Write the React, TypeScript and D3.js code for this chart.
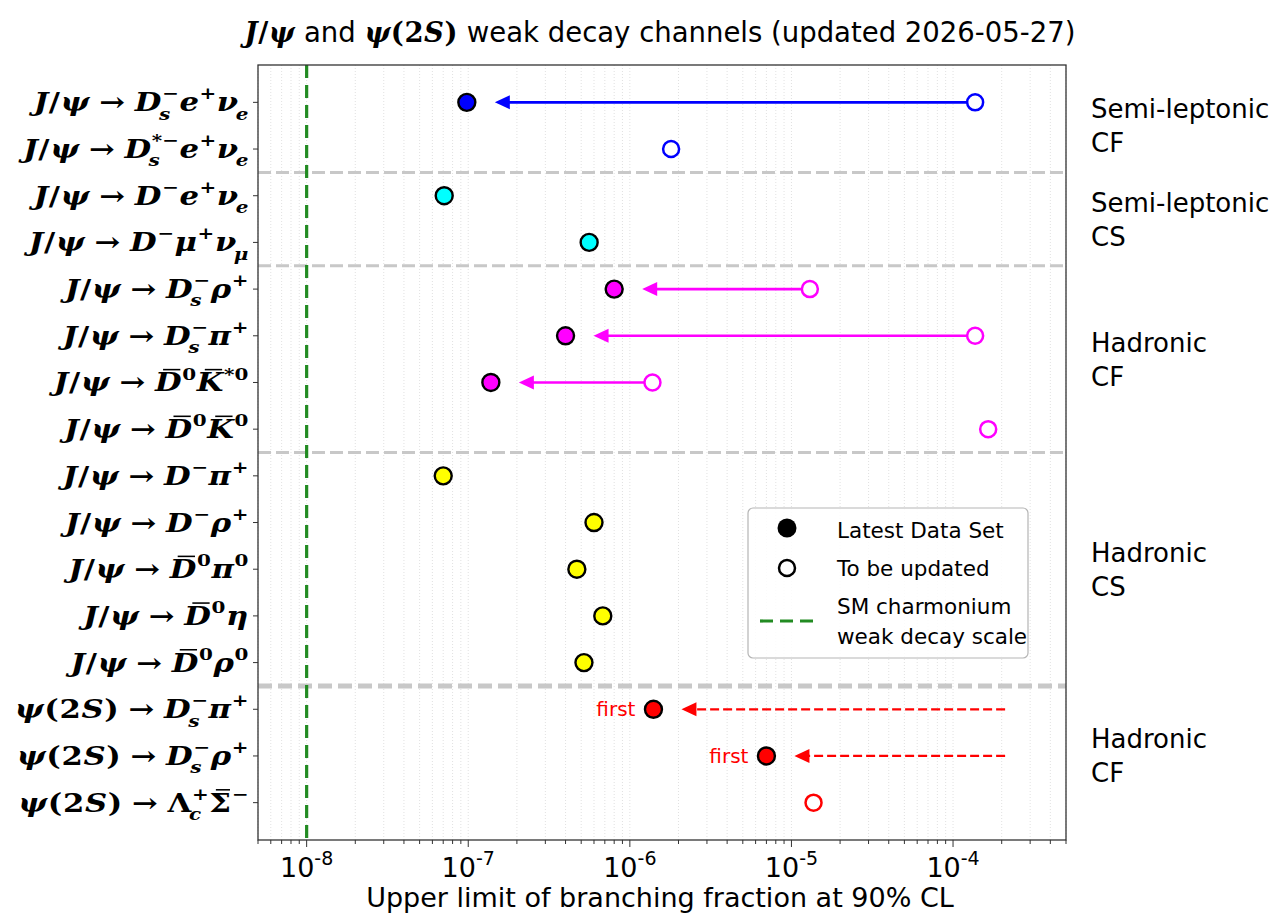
import { useEffect, useRef } from 'react';
import * as d3 from 'd3';

const width = 1274;
const height = 916;

const SANS = 'DejaVu Sans, Liberation Sans, sans-serif';
const SERIF = 'DejaVu Serif, Liberation Serif, serif';

// channel labels, mini markup: _{..} subscript, ^{..} superscript, ~X bar over X
const channels = [
  'J/ψ → D_{s}^{−}e^{+}ν_{e}',
  'J/ψ → D_{s}^{*−}e^{+}ν_{e}',
  'J/ψ → D^{−}e^{+}ν_{e}',
  'J/ψ → D^{−}μ^{+}ν_{μ}',
  'J/ψ → D_{s}^{−}ρ^{+}',
  'J/ψ → D_{s}^{−}π^{+}',
  'J/ψ → ~D^{0}~K^{*0}',
  'J/ψ → ~D^{0}~K^{0}',
  'J/ψ → D^{−}π^{+}',
  'J/ψ → D^{−}ρ^{+}',
  'J/ψ → ~D^{0}π^{0}',
  'J/ψ → ~D^{0}η',
  'J/ψ → ~D^{0}ρ^{0}',
  'ψ(2S) → D_{s}^{−}π^{+}',
  'ψ(2S) → D_{s}^{−}ρ^{+}',
  'ψ(2S) → Λ_{c}^{+}~Σ^{−}',
];

// latest data set upper limits (filled)
const latest: (number | null)[] = [
  9.8e-8, null, 7.1e-8, 5.6e-7, 8.0e-7, 4.0e-7, 1.38e-7, null,
  7.0e-8, 6.0e-7, 4.7e-7, 6.8e-7, 5.2e-7, 1.4e-6, 7.0e-6, null,
];

// older limits, to be updated (open)
const previous: (number | null)[] = [
  1.37e-4, 1.8e-6, null, null, 1.3e-5, 1.37e-4, 1.38e-6, 1.65e-4,
  null, null, null, null, null, null, null, 1.37e-5,
];

// first measurements: dashed arrow starts here
const firstFrom: (number | null)[] = [
  null, null, null, null, null, null, null, null,
  null, null, null, null, null, 2.1e-4, 2.1e-4, null,
];

const groupNames = ['Semi-leptonic\nCF', 'Semi-leptonic\nCS', 'Hadronic\nCF', 'Hadronic\nCS', 'Hadronic\nCF'];
const groupStart = [0, 2, 4, 8, 13];
const groupEnd = [1, 3, 7, 12, 15];
const groupColors = ['#0000ff', '#00ffff', '#ff00ff', '#ffff00', '#ff0000'];

const smScale = 1e-8;
const xTicks = [1e-8, 1e-7, 1e-6, 1e-5, 1e-4];

type Piece = { base: string; sub?: string; sup?: string; bar?: boolean };

function parseMath(s: string): Piece[] {
  const out: Piece[] = [];
  let i = 0;
  while (i < s.length) {
    const c = s[i];
    if (c === '_' || c === '^') {
      const end = s.indexOf('}', i);
      const txt = s.slice(i + 2, end);
      const last = out[out.length - 1];
      if (c === '_') last.sub = txt;
      else last.sup = txt;
      i = end + 1;
    } else if (c === '~') {
      out.push({ base: s[i + 1], bar: true });
      i += 2;
    } else {
      out.push({ base: c });
      i++;
    }
  }
  return out;
}

function drawMathAt(g: any, str: string, fs: number, x0: number) {
  let x = x0;
  const upright = (t: string) => /^[0-9()→ΛΣ/+−*]+$/.test(t);
  for (const p of parseMath(str)) {
    if (p.base === ' ') { x += fs * 0.3; continue; }
    const t = g.append('text')
      .attr('x', x).attr('y', 0)
      .attr('font-family', SERIF).attr('font-weight', 'bold')
      .attr('font-style', upright(p.base) ? 'normal' : 'italic')
      .attr('font-size', fs)
      .text(p.base);
    const w = (t.node() as SVGTextElement).getComputedTextLength();
    if (p.bar) {
      g.append('line')
        .attr('x1', x + w * 0.3).attr('x2', x + w * 0.95)
        .attr('y1', -fs * 0.84).attr('y2', -fs * 0.84)
        .attr('stroke', '#000').attr('stroke-width', fs * 0.06);
    }
    const ss = fs * 0.65;
    let sw = 0;
    if (p.sup) {
      const s = g.append('text')
        .attr('x', x + w + fs * 0.02).attr('y', -fs * 0.46)
        .attr('font-family', SERIF).attr('font-weight', 'bold')
        .attr('font-style', upright(p.sup) ? 'normal' : 'italic')
        .attr('font-size', ss).text(p.sup);
      sw = Math.max(sw, (s.node() as SVGTextElement).getComputedTextLength() + fs * 0.02);
    }
    if (p.sub) {
      const s = g.append('text')
        .attr('x', x + w - fs * 0.08).attr('y', fs * 0.32)
        .attr('font-family', SERIF).attr('font-weight', 'bold')
        .attr('font-style', upright(p.sub) ? 'normal' : 'italic')
        .attr('font-size', ss).text(p.sub);
      sw = Math.max(sw, (s.node() as SVGTextElement).getComputedTextLength() - fs * 0.08);
    }
    x += w + sw + fs * 0.02;
  }
  return x;
}

// mixed math ('m') and sans ('s') text, anchored at (x0, y0); sx stretches horizontally
function drawRich(parent: any, segs: [string, string][], fs: number, x0: number, y0: number, anchor: string, sx = 1) {
  const g = parent.append('g');
  let x = 0;
  for (const [kind, str] of segs) {
    if (kind === 's') {
      const t = g.append('text')
        .attr('x', x).attr('y', 0)
        .attr('font-family', SANS).attr('font-size', fs)
        .style('white-space', 'pre')
        .text(str);
      x += (t.node() as SVGTextElement).getComputedTextLength();
    } else {
      x = drawMathAt(g, str, fs, x);
    }
  }
  const shift = anchor === 'end' ? -x : anchor === 'middle' ? -x / 2 : 0;
  g.attr('transform', `translate(${x0 + shift * sx},${y0}) scale(${sx},1)`);
  return g;
}

const App = () => {
  const svgRef = useRef<SVGSVGElement>(null);

  useEffect(() => {
    const svg = d3.select(svgRef.current);
    svg.selectAll('*').remove();

    const left = 258, right = 1066, top = 65, bottom = 840;

    const x = d3.scaleLog().domain([5e-9, 5e-4]).range([left, right]);
    const y = d3.scaleLinear().domain([-0.8, 15.8]).range([top, bottom]);

    const rowColor = (i: number) => {
      const gi = groupStart.findIndex((s, k) => i >= s && i <= groupEnd[k]);
      return groupColors[gi];
    };

    // minor + major grid (vertical, dotted)
    const allTicks: number[] = [];
    for (let k = -9; k <= -4; k++) {
      for (let m = 1; m <= 9; m++) {
        const v = m * Math.pow(10, k);
        if (v >= 5e-9 && v <= 5e-4) allTicks.push(v);
      }
    }
    svg.append('g').selectAll('line')
      .data(allTicks)
      .enter().append('line')
      .attr('x1', d => x(d)).attr('x2', d => x(d))
      .attr('y1', top).attr('y2', bottom)
      .attr('stroke', '#d9d9d9').attr('stroke-width', 0.8)
      .attr('stroke-dasharray', '1,2');

    // group separators
    groupEnd.slice(0, -1).forEach((e, k) => {
      const thick = k === groupEnd.length - 2;
      svg.append('line')
        .attr('x1', left).attr('x2', right)
        .attr('y1', y(e + 0.5)).attr('y2', y(e + 0.5))
        .attr('stroke', '#c8c8c8')
        .attr('stroke-width', thick ? 5 : 3)
        .attr('stroke-dasharray', thick ? '14,6' : '13,5');
    });

    // SM scale
    svg.append('line')
      .attr('x1', x(smScale)).attr('x2', x(smScale))
      .attr('y1', top).attr('y2', bottom)
      .attr('stroke', '#228b22').attr('stroke-width', 3.2)
      .attr('stroke-dasharray', '13,7');

    const drawArrow = (x1: number, x2: number, yy: number, color: string, dashed: boolean) => {
      const headLen = 15, headW = 7;
      svg.append('line')
        .attr('x1', x1).attr('x2', x2 + headLen - 2)
        .attr('y1', yy).attr('y2', yy)
        .attr('stroke', color).attr('stroke-width', dashed ? 2.2 : 2.6)
        .attr('stroke-dasharray', dashed ? '9,4' : null);
      svg.append('path')
        .attr('d', `M${x2},${yy}L${x2 + headLen},${yy - headW}L${x2 + headLen},${yy + headW}Z`)
        .attr('fill', color);
    };

    // arrows
    channels.forEach((_, i) => {
      const c = rowColor(i);
      const l = latest[i];
      if (l == null) return;
      const tip = x(l) + 28;
      if (previous[i] != null) drawArrow(x(previous[i] as number) - 8, tip, y(i), c, false);
      if (firstFrom[i] != null) {
        drawArrow(x(firstFrom[i] as number), tip, y(i), c, true);
        svg.append('text')
          .attr('x', x(l) - 18).attr('y', y(i) + 7)
          .attr('text-anchor', 'end')
          .attr('font-family', SANS).attr('font-size', 20)
          .attr('fill', c)
          .text('first');
      }
    });

    // open markers
    svg.append('g').selectAll('circle')
      .data(channels.map((_, i) => i).filter(i => previous[i] != null))
      .enter().append('circle')
      .attr('cx', i => x(previous[i] as number)).attr('cy', i => y(i))
      .attr('r', 8)
      .attr('fill', '#fff')
      .attr('stroke', i => rowColor(i))
      .attr('stroke-width', 2.5);

    // filled markers
    svg.append('g').selectAll('circle')
      .data(channels.map((_, i) => i).filter(i => latest[i] != null))
      .enter().append('circle')
      .attr('cx', i => x(latest[i] as number)).attr('cy', i => y(i))
      .attr('r', 8.5)
      .attr('fill', i => rowColor(i))
      .attr('stroke', '#000')
      .attr('stroke-width', 2.4);

    // frame
    svg.append('rect')
      .attr('x', left).attr('y', top)
      .attr('width', right - left).attr('height', bottom - top)
      .attr('fill', 'none').attr('stroke', '#333').attr('stroke-width', 1.3);

    // x ticks
    svg.append('g').selectAll('line')
      .data(allTicks)
      .enter().append('line')
      .attr('x1', d => x(d)).attr('x2', d => x(d))
      .attr('y1', bottom)
      .attr('y2', d => bottom + (xTicks.some(t => Math.abs(t - d) / d < 1e-6) ? 7 : 4))
      .attr('stroke', '#333').attr('stroke-width', 1);

    xTicks.forEach(t => {
      const txt = svg.append('text')
        .attr('x', x(t)).attr('y', 877)
        .attr('text-anchor', 'middle')
        .attr('font-family', SANS).attr('font-size', 27);
      txt.append('tspan').text('10');
      txt.append('tspan').attr('dy', -12).attr('font-size', 19).text(String(Math.round(Math.log10(t))));
    });

    svg.append('text')
      .attr('x', (left + right) / 2 - 2).attr('y', 907)
      .attr('text-anchor', 'middle')
      .attr('font-family', SANS).attr('font-size', 27)
      .text('Upper limit of branching fraction at 90% CL');

    // y ticks and channel labels
    channels.forEach((lab, i) => {
      svg.append('line')
        .attr('x1', left - 5).attr('x2', left)
        .attr('y1', y(i)).attr('y2', y(i))
        .attr('stroke', '#333').attr('stroke-width', 1);
      drawRich(svg, [['m', lab]], 26, left - 9, y(i) + 9, 'end', 1.18);
    });

    // group labels
    groupNames.forEach((name, k) => {
      const cy = y((groupStart[k] + groupEnd[k]) / 2);
      const lines = name.split('\n');
      lines.forEach((ln, j) => {
        svg.append('text')
          .attr('x', 1091).attr('y', cy + (j - (lines.length - 1) / 2) * 34 + 9.5)
          .attr('font-family', SANS).attr('font-size', 26)
          .text(ln);
      });
    });

    // title
    drawRich(svg, [
      ['m', 'J/ψ'],
      ['s', ' and '],
      ['m', 'ψ(2S)'],
      ['s', ' weak decay channels (updated 2026-05-27)'],
    ], 27.5, 660, 42, 'middle');

    // legend
    const lg = svg.append('g');
    lg.append('rect')
      .attr('x', 748).attr('y', 508).attr('width', 280).attr('height', 150)
      .attr('rx', 5)
      .attr('fill', '#fff').attr('fill-opacity', 0.85)
      .attr('stroke', '#b5b5b5').attr('stroke-width', 1.2);
    lg.append('circle').attr('cx', 787).attr('cy', 528).attr('r', 9.5).attr('fill', '#000');
    lg.append('circle').attr('cx', 787).attr('cy', 568).attr('r', 8)
      .attr('fill', '#fff').attr('stroke', '#000').attr('stroke-width', 2.5);
    lg.append('line').attr('x1', 760).attr('x2', 813).attr('y1', 621).attr('y2', 621)
      .attr('stroke', '#228b22').attr('stroke-width', 3.2).attr('stroke-dasharray', '13,7');
    const legendText: [string, number][] = [
      ['Latest Data Set', 538],
      ['To be updated', 576],
      ['SM charmonium', 614],
      ['weak decay scale', 644],
    ];
    legendText.forEach(([t, yy]) => {
      lg.append('text')
        .attr('x', 837).attr('y', yy)
        .attr('font-family', SANS).attr('font-size', 21.5)
        .text(t);
    });
  }, []);

  return (
    <svg
      ref={svgRef}
      width={width}
      height={height}
      style={{ position: 'absolute', left: 0, top: 0, background: '#fff' }}
    />
  );
};

export default App;
